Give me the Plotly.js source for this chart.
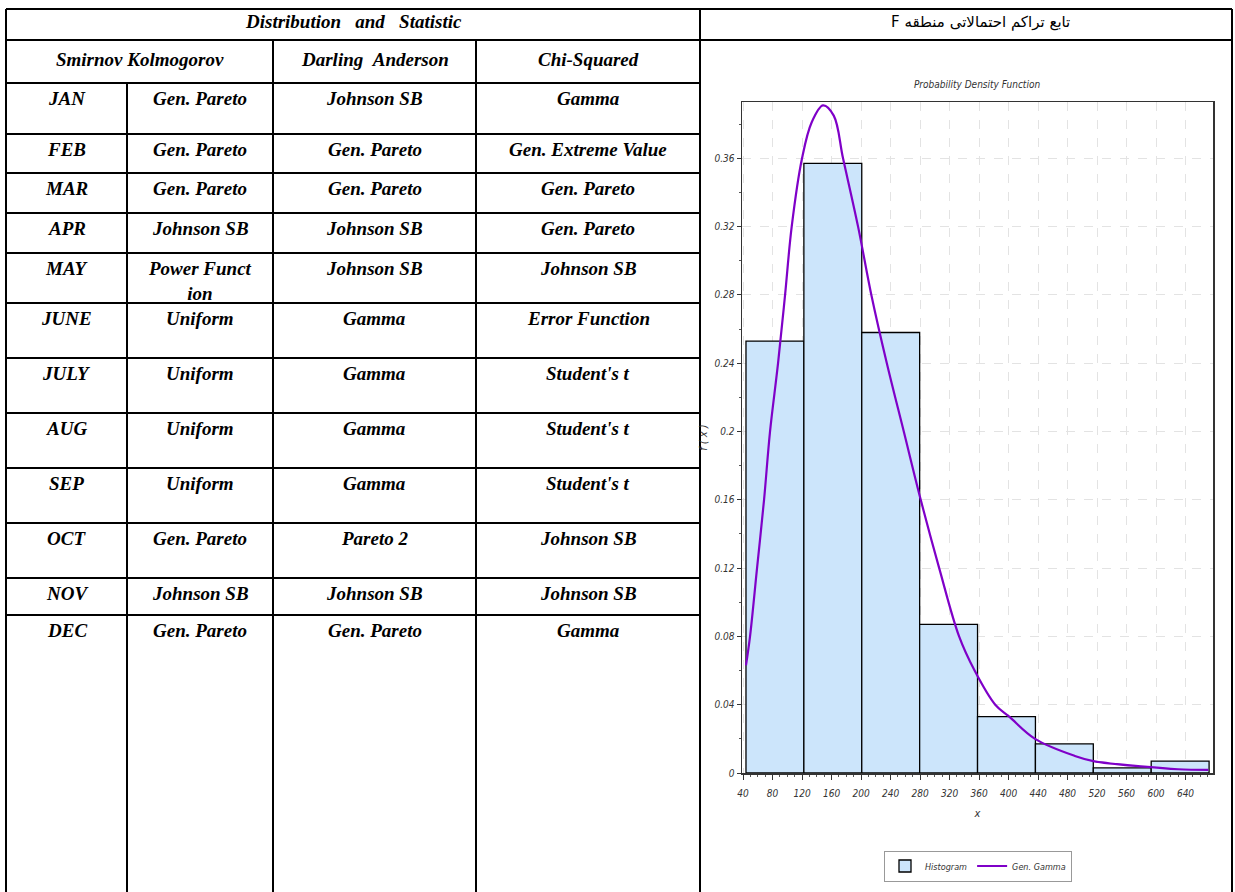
<!DOCTYPE html>
<html><head><meta charset="utf-8">
<script src="https://cdn.plot.ly/plotly-3.0.1.min.js"></script>
<style>html,body{margin:0;padding:0;background:#fff}#chart{width:1235px;height:892px}</style>
</head><body><div id="chart"></div>
<script>
// ---------- table data ----------
const headerTitle = 'Distribution\u00a0\u00a0 and\u00a0\u00a0 Statistic';
const testNames = ['Smirnov Kolmogorov', 'Darling\u00a0\u00a0Anderson', 'Chi-Squared'];
const months = ['JAN','FEB','MAR','APR','MAY','JUNE','JULY','AUG','SEP','OCT','NOV','DEC'];
const smirnovKolmogorov = ['Gen. Pareto','Gen. Pareto','Gen. Pareto','Johnson SB','Power Funct<br>ion','Uniform','Uniform','Uniform','Uniform','Gen. Pareto','Johnson SB','Gen. Pareto'];
const darlingAnderson = ['Johnson SB','Gen. Pareto','Gen. Pareto','Johnson SB','Johnson SB','Gamma','Gamma','Gamma','Gamma','Pareto 2','Johnson SB','Gen. Pareto'];
const chiSquared = ['Gamma','Gen. Extreme Value','Gen. Pareto','Gen. Pareto','Johnson SB','Error Function',"Student's t","Student's t","Student's t",'Johnson SB','Johnson SB','Gamma'];
const panelTitle = 'تابع تراکم احتمالاتی منطقه F';

// ---------- chart data ----------
const chartTitle = 'Probability Density Function';
const binEdges = [44, 122.5, 201, 279.5, 358, 436.5, 515, 593.5, 672];
const histValues = [0.253, 0.357, 0.258, 0.087, 0.033, 0.017, 0.003, 0.007];
const curveX = [44, 49.5, 59, 68.5, 76.6, 87.5, 97, 106, 120, 133, 148.5, 163, 175.6, 196, 214, 235, 258, 281, 306, 333, 354, 382, 401, 436, 490, 515, 584, 630, 671];
const curveY = [0.063, 0.08, 0.12, 0.16, 0.20, 0.24, 0.28, 0.32, 0.36, 0.381, 0.391, 0.385, 0.36, 0.32, 0.28, 0.24, 0.20, 0.16, 0.12, 0.08, 0.06, 0.04, 0.033, 0.02, 0.01, 0.007, 0.0037, 0.0022, 0.0018];
const xTickVals = [40,80,120,160,200,240,280,320,360,400,440,480,520,560,600,640];
const xTickText = ['40','80','120','160','200','240','280','320','360','400','440','480','520','560','600','640'];
const yTickVals = [0,0.04,0.08,0.12,0.16,0.2,0.24,0.28,0.32,0.36];
const yTickText = ['0','0.04','0.08','0.12','0.16','0.2','0.24','0.28','0.32','0.36'];
const seriesNames = ['Histogram', 'Gen. Gamma'];

// ---------- geometry (pixels) ----------
const W = 1235, H = 892;
const X = p => p / W, Y = p => 1 - p / H;
const colX = [6, 127, 273, 476, 700, 1232];
const rowY = [9, 40, 83, 134, 173, 213, 253, 303, 358, 413, 468, 523, 578, 615, 892];

const serif = 'Liberation Serif, Times New Roman, serif';
const narrow = 'Liberation Sans Narrow, DejaVu Sans Condensed, Arial Narrow, sans-serif';
const cellFont = {family: serif, size: 19, color: '#000', weight: 'bold', style: 'italic'};

const shapes = [];
const line = (x0, y0, x1, y1) => shapes.push({type: 'line', xref: 'paper', yref: 'paper',
  x0: X(x0), y0: Y(y0), x1: X(x1), y1: Y(y1), line: {color: '#000', width: 2}, layer: 'above'});
line(colX[0], rowY[0], colX[5], rowY[0]);
line(colX[0], rowY[1], colX[5], rowY[1]);
for (let i = 2; i < rowY.length - 1; i++) line(colX[0], rowY[i], colX[4], rowY[i]);
line(colX[0], rowY[0], colX[0], H);
line(colX[4], rowY[0], colX[4], H);
line(colX[5], rowY[0], colX[5], H);
line(colX[2], rowY[1], colX[2], H);
line(colX[3], rowY[1], colX[3], H);
line(colX[1], rowY[2], colX[1], H);

const annotations = [];
const cell = (text, xa, xb, ytop, font, dy) => annotations.push({text, xref: 'paper', yref: 'paper',
  x: X((xa + xb) / 2), y: Y(ytop + (dy === undefined ? 3 : dy)), xanchor: 'center', yanchor: 'top',
  showarrow: false, font: font || cellFont});
cell(headerTitle, colX[0], colX[4], rowY[0], cellFont, 0);
cell(testNames[0], colX[0], colX[2], rowY[1], cellFont, 7);
cell(testNames[1], colX[2], colX[3], rowY[1], cellFont, 7);
cell(testNames[2], colX[3], colX[4], rowY[1], cellFont, 7);
months.forEach((m, i) => {
  const top = rowY[i + 2];
  cell(m, colX[0], colX[1], top);
  cell(smirnovKolmogorov[i], colX[1], colX[2], top);
  cell(darlingAnderson[i], colX[2], colX[3], top);
  cell(chiSquared[i], colX[3], colX[4], top);
});
// Persian heading shown as a right-to-left run
const panelTitleShown = '\u202B' + panelTitle + '\u202C';
cell(panelTitleShown, colX[4] + 28, colX[5], rowY[0], {family: 'DejaVu Sans, Noto Sans, sans-serif', size: 15, color: '#000'}, 2);

// ---------- chart traces ----------
const binCenters = histValues.map((_, i) => (binEdges[i] + binEdges[i + 1]) / 2);
const binWidths = histValues.map((_, i) => binEdges[i + 1] - binEdges[i]);

const traces = [
  {type: 'bar', name: seriesNames[0], x: binCenters, y: histValues, width: binWidths,
   marker: {color: '#cce5fb', line: {color: '#000', width: 1.3}}},
  {type: 'scatter', mode: 'lines', name: seriesNames[1], x: curveX, y: curveY,
   line: {color: '#7f00c8', width: 2.2, shape: 'spline', smoothing: 1}}
];

const tickFont = {family: narrow, size: 10, color: '#333', style: 'italic'};
const layout = {
  width: W, height: H, margin: {l: 0, r: 0, t: 0, b: 0},
  paper_bgcolor: '#fff', plot_bgcolor: '#fff', showlegend: true, bargap: 0,
  title: {text: chartTitle, x: X(977), xanchor: 'center', xref: 'paper', y: Y(84), yanchor: 'middle', yref: 'paper',
          font: {family: narrow, size: 10, color: '#333', style: 'italic'}},
  xaxis: {domain: [X(742), X(1213)], range: [38.6, 677.3], tickmode: 'array', tickvals: xTickVals, ticktext: xTickText,
          ticks: 'outside', ticklen: 5, tickcolor: '#333', ticklabelstandoff: 5,
          minor: {dtick: 10, tick0: 0, ticks: 'outside', ticklen: 2, tickcolor: '#555', showgrid: false},
          showline: true, linecolor: '#333', linewidth: 1.5, mirror: true, zeroline: false,
          showgrid: true, gridcolor: '#e3e3e3', griddash: 'dash', gridwidth: 1,
          tickfont: tickFont, title: {text: 'x', font: {family: narrow, size: 11, color: '#333', style: 'italic'}, standoff: 12}},
  yaxis: {domain: [Y(773), Y(102)], range: [0, 0.393], tickmode: 'array', tickvals: yTickVals, ticktext: yTickText,
          ticks: 'outside', ticklen: 4, tickcolor: '#333',
          minor: {dtick: 0.02, tick0: 0, ticks: 'outside', ticklen: 2, tickcolor: '#555', showgrid: false},
          showline: true, linecolor: '#333', linewidth: 1.5, mirror: true, zeroline: false,
          showgrid: true, gridcolor: '#e3e3e3', griddash: 'dash', gridwidth: 1,
          tickfont: tickFont, title: {text: 'f ( x )', font: {family: narrow, size: 11, color: '#333', style: 'italic'}, standoff: 4}},
  legend: {orientation: 'h', x: X(978), xanchor: 'center', y: Y(866), yanchor: 'middle',
           bgcolor: '#fff', bordercolor: '#999', borderwidth: 1, itemwidth: 30,
           font: {family: narrow, size: 9, color: '#333', style: 'italic'}},
  shapes, annotations
};
Plotly.newPlot('chart', traces, layout, {displayModeBar: false, staticPlot: true});
</script></body></html>
